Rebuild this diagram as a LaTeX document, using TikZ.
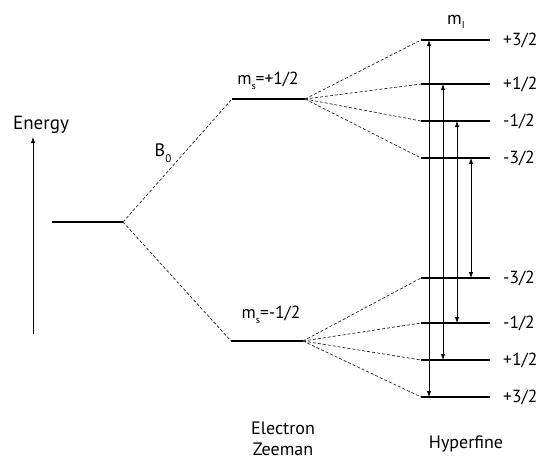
\documentclass[tikz,border=0pt]{standalone}
\usepackage{fontspec}
\setmainfont{PT Sans}
\usetikzlibrary{arrows.meta}
\begin{document}
\begin{tikzpicture}[x=1pt,y=-1pt,
  level/.style={line width=2.6pt},
  split/.style={dashed,dash pattern=on 3pt off 2pt,line width=0.7pt,black!85},
  trans/.style={line width=0.8pt,{Latex[length=6pt,width=4.5pt]}-{Latex[length=6pt,width=4.5pt]}},
  lab/.style={font=\fontsize{17.5}{19}\selectfont,anchor=west,inner sep=0pt},
  msl/.style={font=\fontsize{17.5}{19}\selectfont,inner sep=0pt},
  captext/.style={font=\fontsize{18}{21}\selectfont,align=center,inner sep=0pt}]
\useasboundingbox (0,0) rectangle (543,464);
% energy axis
\coordinate (eb) at (33,334);
\coordinate (et) at (33,137);
\draw[line width=0.8pt,-{Latex[length=6pt,width=4.5pt]}] (eb) -- (et);
\node[font=\fontsize{19}{21}\selectfont,inner sep=0pt] (energy) at (41,125) {Energy};
% zero field level
\coordinate (z0l) at (52,222);
\coordinate (z0r) at (123,222);
\draw[level] (z0l) -- (z0r);
% Zeeman levels
\coordinate (upl) at (232,99);
\coordinate (upr) at (305,99);
\coordinate (dnl) at (231,341);
\coordinate (dnr) at (303,341);
\draw[level] (upl) -- (upr);
\draw[level] (dnl) -- (dnr);
\draw[split] (z0r) -- (upl);
\draw[split] (z0r) -- (dnl);
\node[msl] (msup) at (268,81) {m\raisebox{-0.5ex}{\fontsize{10}{11}\selectfont s}=+1/2};
\node[msl] (msdn) at (271,315) {m\raisebox{-0.5ex}{\fontsize{10}{11}\selectfont s}=-1/2};
\node[font=\fontsize{18}{20}\selectfont,inner sep=0pt] (b0) at (163,153) {B\raisebox{-0.7ex}{\fontsize{11}{12}\selectfont 0}};
% hyperfine levels
\foreach \n/\y/\lbl in {1/40/{+3/2},2/84/{+1/2},3/121/{-1/2},4/158/{-3/2},5/278/{-3/2},6/323/{-1/2},7/360/{+1/2},8/397/{+3/2}}{
  \coordinate (h\n l) at (421,\y);
  \coordinate (h\n r) at (490,\y);
  \draw[level] (h\n l) -- (h\n r);
  \node[lab] (t\n) at (503,\y) {\lbl};
}
\foreach \n in {1,2,3,4}{\draw[split] (upr) -- (h\n l);}
\foreach \n in {5,6,7,8}{\draw[split] (dnr) -- (h\n l);}
\node[font=\fontsize{18}{20}\selectfont,inner sep=0pt] (mi) at (456,22) {m\raisebox{-0.5ex}{\fontsize{10}{11}\selectfont I}};
% transitions
\coordinate (a1t) at (429,40);  \coordinate (a1b) at (429,397);
\coordinate (a2t) at (443,84);  \coordinate (a2b) at (443,360);
\coordinate (a3t) at (457,121); \coordinate (a3b) at (457,323);
\coordinate (a4t) at (471,158); \coordinate (a4b) at (471,278);
\draw[trans] (a1t) -- (a1b);
\draw[trans] (a2t) -- (a2b);
\draw[trans] (a3t) -- (a3b);
\draw[trans] (a4t) -- (a4b);
% captions
\node[captext,anchor=north] (ez) at (283,422) {Electron\\Zeeman};
\node[captext] (hf) at (466,444) {Hyperfine};
\end{tikzpicture}
\end{document}
